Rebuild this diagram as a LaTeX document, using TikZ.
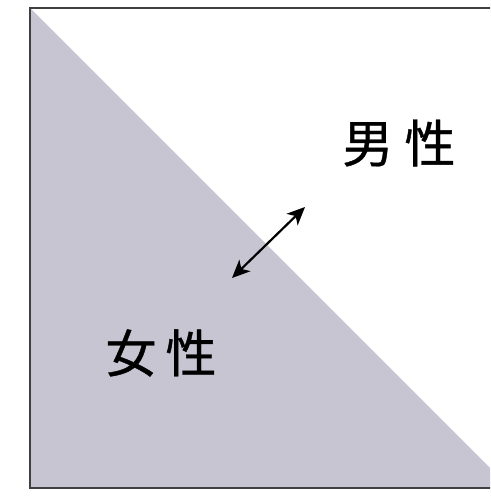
\documentclass[tikz,border=0pt]{standalone}
\usepackage{fontspec}
\newfontfamily\jpfont[FakeBold=0.8]{Noto Sans CJK JP}
\usepackage{xcolor}
\usetikzlibrary{arrows.meta}
\definecolor{shadegray}{HTML}{C8C5D3}

\begin{document}
\begin{tikzpicture}[x=1pt, y=-1pt, every node/.style={font=\jpfont\fontsize{51}{51}\selectfont, inner sep=0pt}]
			\clip (0,0) rectangle (490,503);
			\coordinate (tl) at (30,8);
			\coordinate (tr) at (510,8);
			\coordinate (bl) at (30,488);
			\coordinate (br) at (510,488);
			% shaded half
			\fill[shadegray] (tl) -- (br) -- (bl) -- cycle;
			\draw[line width=2.6pt, black!75] (tr) -- (tl) -- (bl) -- (br);
			% labels
			\node (male) at (399,143) {男\hspace{11pt}性};
			\node (female) at (161,353) {女\hspace{9pt}性};
			% arrow across the diagonal
			\coordinate (lo) at (232,278);
			\coordinate (hi) at (305,207);
			\draw[{Stealth[length=18pt, width=16pt, inset=5pt]}-{Stealth[length=18pt, width=16pt, inset=5pt]}, line width=2.2pt] (lo) -- (hi);
		\end{tikzpicture}
\end{document}
